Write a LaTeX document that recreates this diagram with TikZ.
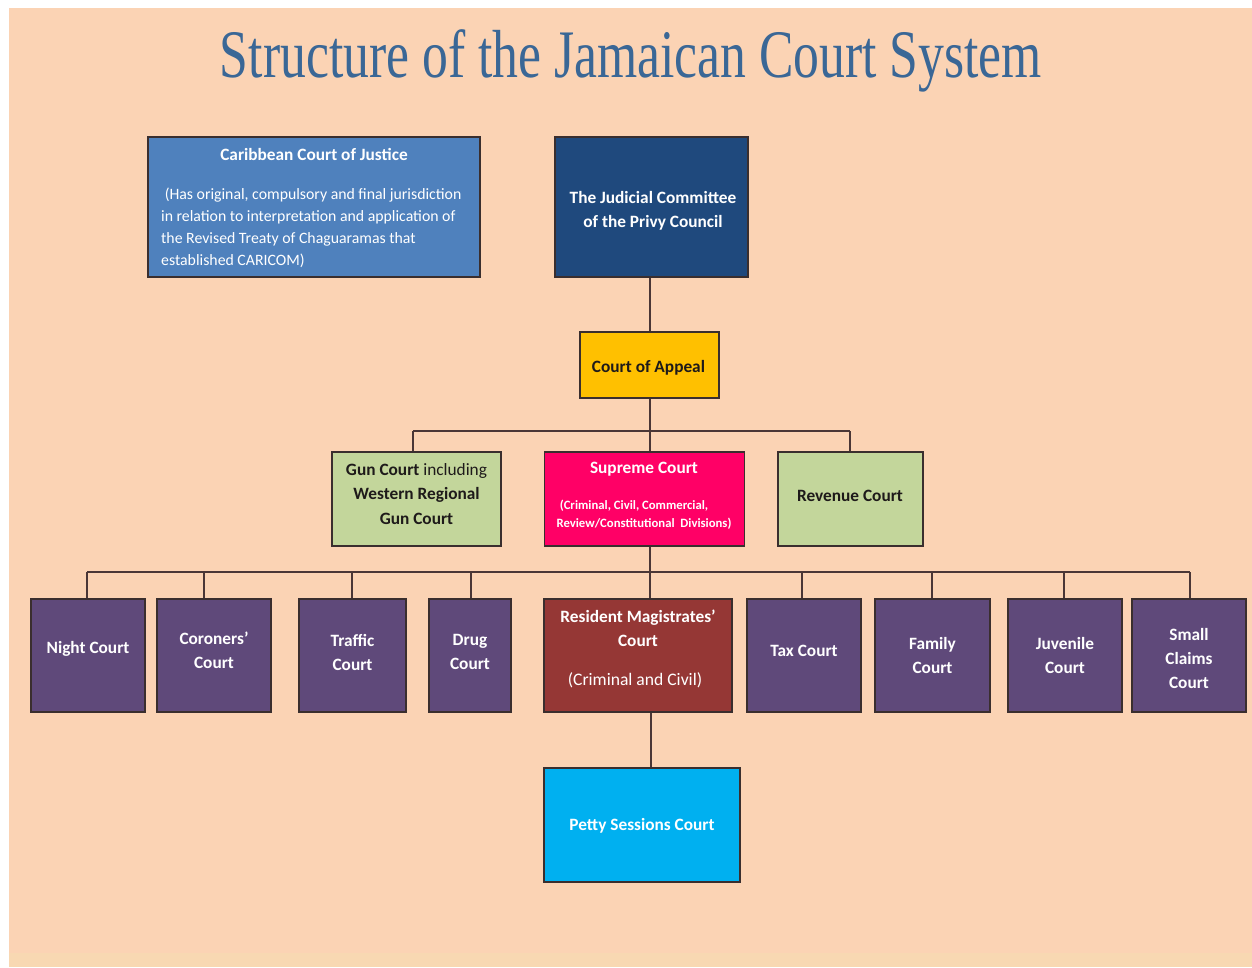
\documentclass[tikz,border=0pt]{standalone}
\usepackage{fontspec}
\setmainfont{Carlito}
\newfontfamily\titlefont{Liberation Serif}
\usetikzlibrary{backgrounds}
\definecolor{peach}{HTML}{FBD3B4}
\definecolor{peachlow}{HTML}{F8D8B2}
\definecolor{titleblue}{HTML}{3A6796}
\definecolor{ccjblue}{HTML}{4F81BD}
\definecolor{navy}{HTML}{1F497D}
\definecolor{amber}{HTML}{FFC000}
\definecolor{sage}{HTML}{C3D69B}
\definecolor{crimson}{HTML}{FF0066}
\definecolor{brick}{HTML}{953735}
\definecolor{plum}{HTML}{5F497A}
\definecolor{sky}{HTML}{00B0F0}
\definecolor{bordc}{HTML}{3A2E2E}
\definecolor{linec}{HTML}{4A3636}
\definecolor{darktxt}{HTML}{1E1A1A}
\tikzset{
  box/.style={draw=bordc, line width=1.5pt, inner sep=0pt, rectangle},
  wtxt/.style={text=white, font=\fontsize{17.3}{24}\selectfont\bfseries, align=center, inner sep=0pt},
  dtxt/.style={text=darktxt, font=\fontsize{17.3}{24.5}\selectfont\bfseries, align=center, inner sep=0pt},
  conn/.style={draw=linec, line width=1.4pt},
}
\begin{document}
\begin{tikzpicture}[x=1pt,y=-1pt]
\useasboundingbox (0,0) rectangle (1252,967);
\begin{scope}[on background layer]
\fill[white] (0,0) rectangle (1252,967);
\fill[peach] (9,8) rectangle (1252,967);
\fill[peachlow] (9,953) rectangle (1252,967);
\end{scope}
% title
\node[anchor=base, inner sep=0pt, text=titleblue] (title) at (631,77)
  {\resizebox{822pt}{\height}{\titlefont\fontsize{68}{68}\selectfont Structure of the Jamaican Court System}};
% top row
\node[box, fill=ccjblue, minimum width=332, minimum height=140] (ccj) at (314,207) {};
\node[wtxt, anchor=base] (ccjT) at (314,160) {Caribbean Court of Justice};
\begin{scope}[every node/.style={text=white, font=\fontsize{15.8}{22}\selectfont, inner sep=0pt, anchor=base west}]
\node (ccj1) at (161,199) {\ (Has original, compulsory and final jurisdiction};
\node (ccj2) at (161,221) {in relation to interpretation and application of};
\node (ccj3) at (161,243) {the Revised Treaty of Chaguaramas that};
\node (ccj4) at (161,265) {established CARICOM)};
\end{scope}
\node[box, fill=navy, minimum width=193, minimum height=140] (jcpc) at (651.5,207) {};
\node[wtxt] (jcpcT) at (653,211) {The Judicial Committee\\of the Privy Council};
\node[box, fill=amber, minimum width=139, minimum height=66] (coa) at (649.5,365) {};
\node[dtxt] (coaT) at (648.5,368) {Court of Appeal};
% middle row
\node[box, fill=sage, minimum width=169, minimum height=94] (gun) at (416.5,499) {};
\node[dtxt] (gunT) at (416.5,494) {Gun Court {\mdseries including}\\Western Regional\\Gun Court};
\node[box, fill=crimson, minimum width=200, minimum height=94] (supreme) at (644.5,499) {};
\node[wtxt] (supT) at (644,469) {Supreme Court};
\node[wtxt, font=\fontsize{12.7}{18}\selectfont\bfseries] (sup1) at (634,506) {(Criminal, Civil, Commercial,};
\node[wtxt, font=\fontsize{12.7}{18}\selectfont\bfseries] (sup2) at (644,524) {Review/Constitutional\ \ Divisions)};
\node[box, fill=sage, minimum width=145, minimum height=94] (revenue) at (850.5,499) {};
\node[dtxt] (revT) at (850,496) {Revenue Court};
% bottom row
\node[box, fill=plum, minimum width=114, minimum height=113] (night) at (88,655.5) {};
\node[wtxt] (nightT) at (88,649) {Night Court};
\node[box, fill=plum, minimum width=114, minimum height=113] (coroners) at (214,655.5) {};
\node[wtxt] (corT) at (214,650) {Coroners’\\Court};
\node[box, fill=plum, minimum width=107, minimum height=113] (traffic) at (352.5,655.5) {};
\node[wtxt] (trafT) at (352.5,652) {Traffic\\Court};
\node[box, fill=plum, minimum width=82, minimum height=113] (drug) at (470,655.5) {};
\node[wtxt] (drugT) at (470,652) {Drug\\Court};
\node[box, fill=brick, minimum width=188, minimum height=113] (rm) at (638,655.5) {};
\node[wtxt] (rmT) at (638,628.5) {Resident Magistrates’\\Court};
\node[wtxt, font=\fontsize{17.6}{24}\selectfont] (rmT2) at (635,680) {(Criminal and Civil)};
\node[box, fill=plum, minimum width=114, minimum height=113] (tax) at (804,655.5) {};
\node[wtxt] (taxT) at (804,651) {Tax Court};
\node[box, fill=plum, minimum width=115, minimum height=113] (family) at (932.5,655.5) {};
\node[wtxt] (famT) at (932.5,655) {Family\\Court};
\node[box, fill=plum, minimum width=114, minimum height=113] (juvenile) at (1065,655.5) {};
\node[wtxt] (juvT) at (1065,655) {Juvenile\\Court};
\node[box, fill=plum, minimum width=114, minimum height=113] (small) at (1189,655.5) {};
\node[wtxt] (smallT) at (1189,658) {Small\\Claims\\Court};
% petty
\node[box, fill=sky, minimum width=196, minimum height=114] (petty) at (642,825) {};
\node[wtxt] (pettyT) at (642,826) {Petty Sessions Court};
% connectors
\begin{scope}[on background layer]
\draw[conn] (jcpc.south -| 650,0) -- (coa.north -| 650,0);
\draw[conn] (coa.south -| 650,0) -- (supreme.north -| 650,0);
\draw[conn] (413,431) -- (850,431);
\draw[conn] (413,431) -- (gun.north -| 413,0);
\draw[conn] (850,431) -- (revenue.north -| 850,0);
\draw[conn] (supreme.south -| 650,0) -- (rm.north -| 650,0);
\draw[conn] (87,572) -- (1190,572);
\draw[conn] (87,572) -- (night.north -| 87,0);
\draw[conn] (204,572) -- (coroners.north -| 204,0);
\draw[conn] (352,572) -- (traffic.north -| 352,0);
\draw[conn] (471,572) -- (drug.north -| 471,0);
\draw[conn] (802,572) -- (tax.north -| 802,0);
\draw[conn] (932,572) -- (family.north -| 932,0);
\draw[conn] (1064,572) -- (juvenile.north -| 1064,0);
\draw[conn] (1190,572) -- (small.north -| 1190,0);
\draw[conn] (rm.south -| 651,0) -- (petty.north -| 651,0);
\end{scope}
\end{tikzpicture}
\end{document}
